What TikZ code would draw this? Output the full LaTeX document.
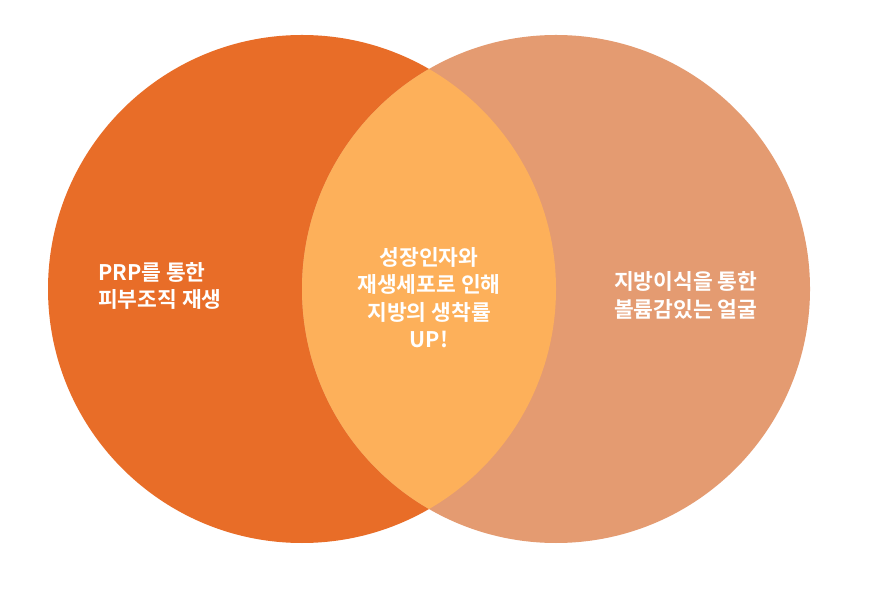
\documentclass[tikz,border=0pt]{standalone}
\usepackage{fontspec}
\newfontfamily\kr{Noto Sans CJK KR Bold}
\definecolor{leftc}{HTML}{E86D28}
\definecolor{rightc}{HTML}{E49B71}
\definecolor{lensc}{HTML}{FDB05A}
\begin{document}
\begin{tikzpicture}[x=1pt,y=1pt,
  lbl/.style={text=white,inner sep=0pt,font=\kr\fontsize{21.5}{27.5}\selectfont}]
\useasboundingbox (0,0) rectangle (874,594);
\fill[white] (0,0) rectangle (874,594);
\coordinate (cl) at (302,305);
\coordinate (cr) at (556,305);
\fill[leftc] (cl) circle (254);
\fill[rightc] (cr) circle (254);
\begin{scope}
  \clip (cl) circle (254);
  \fill[lensc] (cr) circle (254);
\end{scope}
\node[lbl,align=left,anchor=west] (a) at (98,308) {PRP를 통한\\피부조직 재생};
\node[lbl,align=center] (b) at (429,296.5) {성장인자와\\재생세포로 인해\\지방의 생착률\\UP!};
\node[lbl,align=left,anchor=west] (c) at (614,298.5) {지방이식을 통한\\볼륨감있는 얼굴};
\end{tikzpicture}
\end{document}
